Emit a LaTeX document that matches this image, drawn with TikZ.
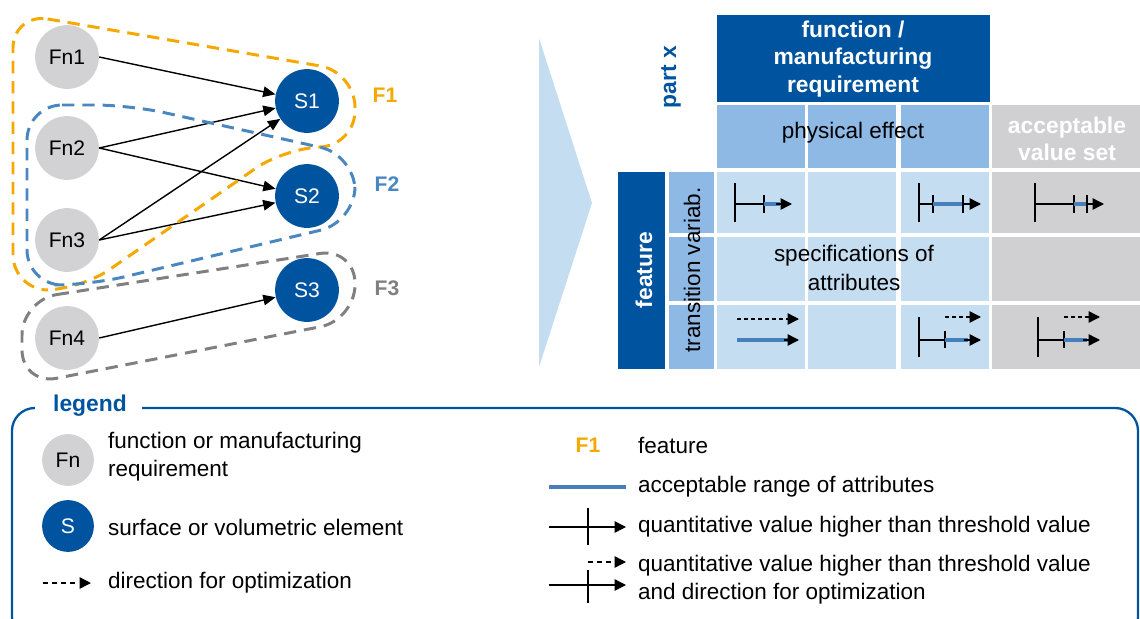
\documentclass[tikz,border=0pt]{standalone}
\usepackage{fontspec}
\setmainfont{Liberation Sans}
\usetikzlibrary{arrows.meta}
\usepackage{xcolor}
\definecolor{darkblue}{RGB}{0,84,159}
\definecolor{midblue}{RGB}{142,185,228}
\definecolor{lightblue}{RGB}{197,221,241}
\definecolor{cellgray}{RGB}{208,208,210}
\definecolor{fngray}{RGB}{210,210,212}
\definecolor{forange}{RGB}{245,168,0}
\definecolor{fblue}{RGB}{74,134,192}
\definecolor{fgray}{RGB}{128,128,128}
\definecolor{rangeblue}{RGB}{70,127,186}

\begin{document}
\begin{tikzpicture}[x=0.02cm,y=-0.02cm,font=\fontsize{12.8}{16}\selectfont,
  fnnode/.style={circle,fill=fngray,minimum size=36.3pt,inner sep=0pt,font=\fontsize{12}{14}\selectfont},
  snode/.style={fnnode,fill=darkblue,text=white},
  link/.style={line width=0.8pt,-{Triangle[length=7pt,width=6pt]}},
  featline/.style={line width=1.7pt,dash pattern=on 7pt off 4.5pt,rounded corners=20pt},
  flabel/.style={font=\fontsize{12}{14}\selectfont\bfseries},
  headtext/.style={font=\fontsize{13}{15.6}\selectfont\bfseries,align=center},
  barline/.style={line width=0.8pt},
  rangeline/.style={rangeblue,line width=2.5pt},
  tipline/.style={line width=0.8pt,-{Triangle[length=6.5pt,width=6.5pt]}},
  optim/.style={tipline,dash pattern=on 2.3pt off 1.7pt},
  legoptim/.style={tipline,dash pattern=on 2.8pt off 2.4pt},
]
\useasboundingbox (0,0) rectangle (1140,619);

%graph nodes
\node[fnnode] (fn1) at (67,57) {Fn1};
\node[fnnode] (fn2) at (67,148) {Fn2};
\node[fnnode] (fn3) at (67,240) {Fn3};
\node[fnnode] (fn4) at (67,338) {Fn4};
\node[snode] (s1) at (307,101) {S1};
\node[snode] (s2) at (307,196) {S2};
\node[snode] (s3) at (307,290) {S3};

%links
\draw[link] (fn1.east) -- (s1);
\draw[link] (fn2.east) -- (s1);
\draw[link] (fn2.east) -- (s2);
\draw[link] (fn3.east) -- (s1);
\draw[link] (fn3.east) -- (s2);
\draw[link] (fn4.east) -- (s3);

%features
\draw[featline,forange] (13,13) -- (355,72) -- (355,146) -- (285,148) -- (80,290) -- (13,290) -- cycle;
\draw[featline,fblue] (27,105) -- (130,105) -- (355,155) -- (355,222) -- (90,285) -- (27,285) -- cycle;
\draw[featline,fgray] (22,300) -- (355,248) -- (355,320) -- (22,385) -- cycle;
\node[flabel,text=forange] (f1) at (385,95) {F1};
\node[flabel,text=fblue] (f2) at (387,184) {F2};
\node[flabel,text=fgray] (f3) at (387,288) {F3};

%chevron
\fill[lightblue] (539,38) -- (592,203) -- (539,367) -- cycle;

%table head
\fill[darkblue] (717,15) rectangle (990,102);
\node[headtext,text=white] (head) at (853,59) {function /\\manufacturing\\requirement};
\node[headtext,text=darkblue,rotate=90] (part) at (671,77) {part x};
\fill[midblue] (717,105) rectangle (805,168);
\fill[midblue] (808,105) rectangle (896,168);
\fill[midblue] (901,105) rectangle (989,168);
\fill[cellgray] (992,105) rectangle (1140,168);
\node (effect) at (853,133) {physical effect};
\node[headtext,text=white] (valset) at (1067,139) {acceptable\\value set};

%table body
\fill[darkblue] (618,172) rectangle (665,369);
\foreach \ya/\yb in {172/233,237/301,305/369}{
  \fill[midblue] (669,\ya) rectangle (714,\yb);
  \fill[lightblue] (717,\ya) rectangle (805,\yb);
  \fill[lightblue] (808,\ya) rectangle (896,\yb);
  \fill[lightblue] (901,\ya) rectangle (989,\yb);
  \fill[cellgray] (992,\ya) rectangle (1140,\yb);
}
\node[headtext,text=white,rotate=90] (feat) at (644,270) {feature};
\node[rotate=90] (trans) at (692,270) {transition variab.};
\node[align=center] (spec) at (854,268) {specifications of\\attributes};

%row 1 glyphs
\draw[barline] (735,183) -- (735,222);
\draw[barline] (735,204) -- (764,204);
\draw[barline] (764,195) -- (764,213);
\draw[rangeline] (764,204) -- (780,204);
\draw[tipline] (776,204) -- (792,204);

\draw[barline] (919,183) -- (919,222);
\draw[barline] (919,204) -- (933,204);
\draw[barline] (933,195) -- (933,213);
\draw[rangeline] (933,204) -- (963,204);
\draw[barline] (963,195) -- (963,213);
\draw[tipline] (963,204) -- (981,204);

\draw[barline] (1035,183) -- (1035,222);
\draw[barline] (1035,204) -- (1074,204);
\draw[barline] (1074,195) -- (1074,213);
\draw[rangeline] (1074,204) -- (1087,204);
\draw[barline] (1087,195) -- (1087,213);
\draw[tipline] (1087,204) -- (1104,204);

%row 3 glyphs
\draw[optim] (737,319) -- (799,319);
\draw[rangeline] (737,340) -- (788,340);
\draw[tipline] (784,340) -- (799,340);

\draw[barline] (919,317) -- (919,357);
\draw[barline] (919,340) -- (945,340);
\draw[barline] (945,331) -- (945,348);
\draw[rangeline] (945,340) -- (968,340);
\draw[tipline] (964,340) -- (981,340);
\draw[optim] (945,317) -- (981,317);

\draw[barline] (1038,317) -- (1038,357);
\draw[barline] (1038,340) -- (1064,340);
\draw[barline] (1064,331) -- (1064,348);
\draw[rangeline] (1064,340) -- (1087,340);
\draw[tipline] (1083,340) -- (1100,340);
\draw[optim] (1064,317) -- (1100,317);

%legend
\draw[darkblue,line width=1.3pt,rounded corners=13pt] (33,408) -- (12,408) -- (12,640) -- (1138,640) -- (1138,408) -- (142,408);
\node[headtext,text=darkblue] (legend) at (90,406) {legend};
\node[fnnode,minimum size=29.5pt] (lfn) at (68,460) {Fn};
\node[anchor=west,align=left] (lfntext) at (102,457) {function or manufacturing\\requirement};
\node[snode,minimum size=29.5pt] (ls) at (68,526) {S};
\node[anchor=west] (lstext) at (102,527) {surface or volumetric element};
\draw[legoptim] (43,583) -- (91,583);
\node[anchor=west] (lopt) at (102,583) {direction for optimization};

\node[flabel,text=forange] (lf1) at (588,445) {F1};
\node[anchor=west] (lf1text) at (632,445) {feature};
\draw[rangeline] (549,487) -- (626,487);
\node[anchor=west] (lrange) at (632,487) {acceptable range of attributes};
\draw[tipline] (549,527) -- (626,527);
\draw[barline] (588,508) -- (588,545);
\node[anchor=west] (lthres) at (632,527) {quantitative value higher than threshold value};
\draw[legoptim] (588,562) -- (626,562);
\draw[tipline] (549,585) -- (626,585);
\draw[barline] (588,570) -- (588,603);
\node[anchor=west,align=left] (lboth) at (632,580) {quantitative value higher than threshold value\\and direction for optimization};
\end{tikzpicture}
\end{document}
